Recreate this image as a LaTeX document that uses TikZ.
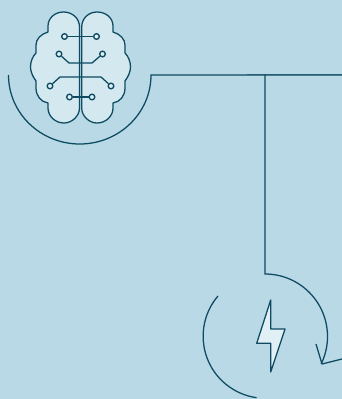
\documentclass[tikz,border=0pt]{standalone}
\usepackage{xcolor}
\definecolor{paper}{HTML}{B8D9E5}
\definecolor{ink}{HTML}{0E4A62}
\definecolor{lobefill}{HTML}{D3E8EF}
\definecolor{boltfill}{HTML}{E0F0F4}
\tikzset{
line/.style={draw=ink, line width=0.95pt},
lobe/.style={line, fill=lobefill, line join=round},
pin/.style={circle, draw=ink, fill=boltfill, line width=1pt, inner sep=0pt, minimum size=4.2pt}
}

\begin{document}
\begin{tikzpicture}[x=0.75pt, y=0.75pt]
\fill[paper] (0,0) rectangle (342,-399);
\useasboundingbox (0,0) rectangle (342,-399);
% lobes
\path[lobe] (79.5,-27) .. controls (79.5,-18) and (72,-12) .. (63.5,-12) .. controls (55,-12) and (48,-18) .. (48,-26) -- (48,-32) .. controls (41,-34) and (36,-39) .. (36,-45) -- (36,-53) .. controls (33,-56) and (30.5,-61) .. (30.5,-67) .. controls (30.5,-72) and (33,-77) .. (36,-81) -- (36,-88) .. controls (36,-96) and (41,-102) .. (48,-103) -- (48,-108) .. controls (48,-116) and (55,-123) .. (64,-123) .. controls (72,-123) and (79.5,-116) .. (79.5,-108) -- cycle;
\path[lobe] (81.7,-27) .. controls (81.7,-18) and (89,-12) .. (97,-12) .. controls (106,-12) and (113,-18) .. (113,-26) -- (113,-32) .. controls (120,-34) and (125,-39) .. (125,-45) -- (125,-53) .. controls (128,-56) and (130.5,-61) .. (130.5,-67) .. controls (130.5,-72) and (128,-77) .. (125,-81) -- (125,-88) .. controls (125,-96) and (120,-102) .. (113,-103) -- (113,-108) .. controls (113,-116) and (106,-123) .. (97,-123) .. controls (89,-123) and (81.7,-116) .. (81.7,-108) -- cycle;
% pins
\node[pin] (p1) at (64.5,-36.5) {};
\node[pin] (p2) at (96.5,-36.5) {};
\node[pin] (p3) at (59,-54) {};
\node[pin] (p4) at (102.5,-54) {};
\node[pin] (p5) at (50,-86) {};
\node[pin] (p6) at (111,-86) {};
\node[pin] (p7) at (69.5,-97) {};
\node[pin] (p8) at (92,-97) {};
\coordinate (k3) at (69,-63);
\coordinate (k4) at (92,-63);
\coordinate (k5) at (60,-77);
\coordinate (k6) at (101,-77);
\draw[line] (p1) -- (p2);
\draw[line] (p3) -- (k3) -- (k4) -- (p4);
\draw[line] (p5) -- (k5) -- (k6) -- (p6);
\draw[line] (p7) -- (p8);
% big cup and wires
\coordinate (cupl) at (8.5,-75);
\coordinate (cupr) at (151,-75);
\coordinate (east) at (342,-75);
\coordinate (tee) at (265,-75);
\coordinate (tees) at (247,-74.7);
\coordinate (teee) at (342,-74.7);
\coordinate (ringtop) at (265,-274);
\coordinate (tip) at (322,-364);
\coordinate (barb) at (316,-344);
\coordinate (tail) at (342,-359);
\draw[line] (cupl) arc (180:360:71.25 and 69) -- (east);
\draw[line, draw opacity=0.6] (tees) -- (teee);
\draw[line] (tee) -- (ringtop) arc (90:-26:62.5);
\draw[line, line join=round] (barb) -- (tip) -- (tail);
\draw[line] (218,-296) arc (139.5:262:62);
% bolt
\path[lobe, fill=boltfill] (270.7,-300) -- (270.7,-329) -- (285,-329) -- (270.7,-372) -- (270.7,-343.3) -- (256.7,-343.3) -- cycle;
\end{tikzpicture}
\end{document}
